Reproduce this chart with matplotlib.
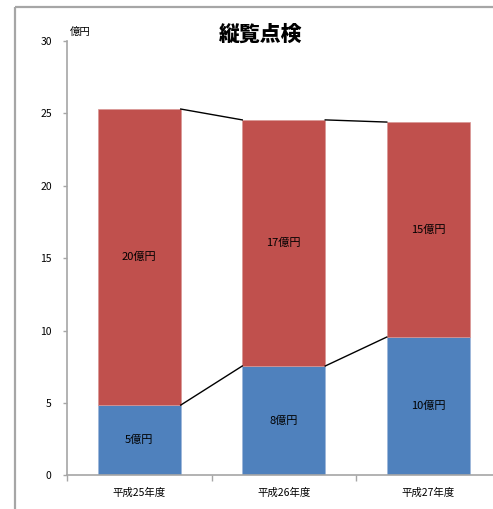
import matplotlib
matplotlib.use("Agg")
import matplotlib.pyplot as plt
from matplotlib.lines import Line2D

plt.rcParams['font.family'] = ['Noto Sans CJK JP', 'DejaVu Sans']

# Data (億円)
categories = ["平成25年度", "平成26年度", "平成27年度"]
lower_values = [4.85, 7.55, 9.55]
upper_values = [20.45, 17.0, 14.85]
y_ticks = [0, 5, 10, 15, 20, 25, 30]
title = "縦覧点検"
unit = "億円"

blue = "#4F81BD"
red = "#C0504D"
grid_gray = "#A6A6A6"

W, H = 493, 509
fig = plt.figure(figsize=(W / 100, H / 100), dpi=100)

# Outer chart frame (top and left edges only)
fig.add_artist(Line2D([15 / W, 1.3], [1 - 7 / H, 1 - 7 / H], transform=fig.transFigure,
                      color=grid_gray, linewidth=1.6, solid_capstyle="butt"))
fig.add_artist(Line2D([15 / W, 15 / W], [-0.3, 1 - 7 / H], transform=fig.transFigure,
                      color=grid_gray, linewidth=1.6, solid_capstyle="butt"))

ax = fig.add_axes([67 / W, (H - 475.3) / H, 433.5 / W, 434.3 / H])
x = list(range(len(categories)))
bw = 0.574

ax.bar(x, lower_values, width=bw, color=blue, edgecolor="#9DB6DA", linewidth=0.5, zorder=2)
ax.bar(x, upper_values, width=bw, bottom=lower_values, color=red,
       edgecolor="#D99694", linewidth=0.5, zorder=2)

totals = [a + b for a, b in zip(lower_values, upper_values)]
for i in range(len(x) - 1):
    ax.plot([x[i] + bw / 2, x[i + 1] - bw / 2], [lower_values[i], lower_values[i + 1]],
            color="black", linewidth=1.0, zorder=3)
    ax.plot([x[i] + bw / 2, x[i + 1] - bw / 2], [totals[i], totals[i + 1]],
            color="black", linewidth=1.0, zorder=3)

for xi, lo, up in zip(x, lower_values, upper_values):
    ax.text(xi, lo / 2, f"{lo:.0f}{unit}", ha="center", va="center", fontsize=8, zorder=4)
    ax.text(xi, lo + up / 2, f"{up:.0f}{unit}", ha="center", va="center", fontsize=8, zorder=4)

ax.set_xlim(-0.5, len(categories) - 0.5)
ax.set_ylim(0, 30)
ax.set_yticks(y_ticks)
ax.set_yticklabels([str(t) for t in y_ticks], fontsize=7.5)
ax.set_xticks(x)
ax.set_xticklabels(categories, fontsize=7.5)
ax.set_xticks([i - 0.5 for i in range(len(categories) + 1)], minor=True)
ax.tick_params(axis="x", which="major", length=0, pad=9)
ax.tick_params(axis="x", which="minor", length=4, color=grid_gray, width=1)
ax.tick_params(axis="y", length=3, color=grid_gray, width=1, pad=8)

for s in ["top", "right"]:
    ax.spines[s].set_visible(False)
for s in ["left", "bottom"]:
    ax.spines[s].set_color(grid_gray)
    ax.spines[s].set_linewidth(1.2)

fig.text(70 / W, 1 - 32 / H, unit, fontsize=7.5, ha="left", va="center")
fig.text(261 / W, 1 - 35 / H, title, fontsize=15, fontweight="heavy", ha="center", va="center")

fig.savefig("out.png", dpi=100)
